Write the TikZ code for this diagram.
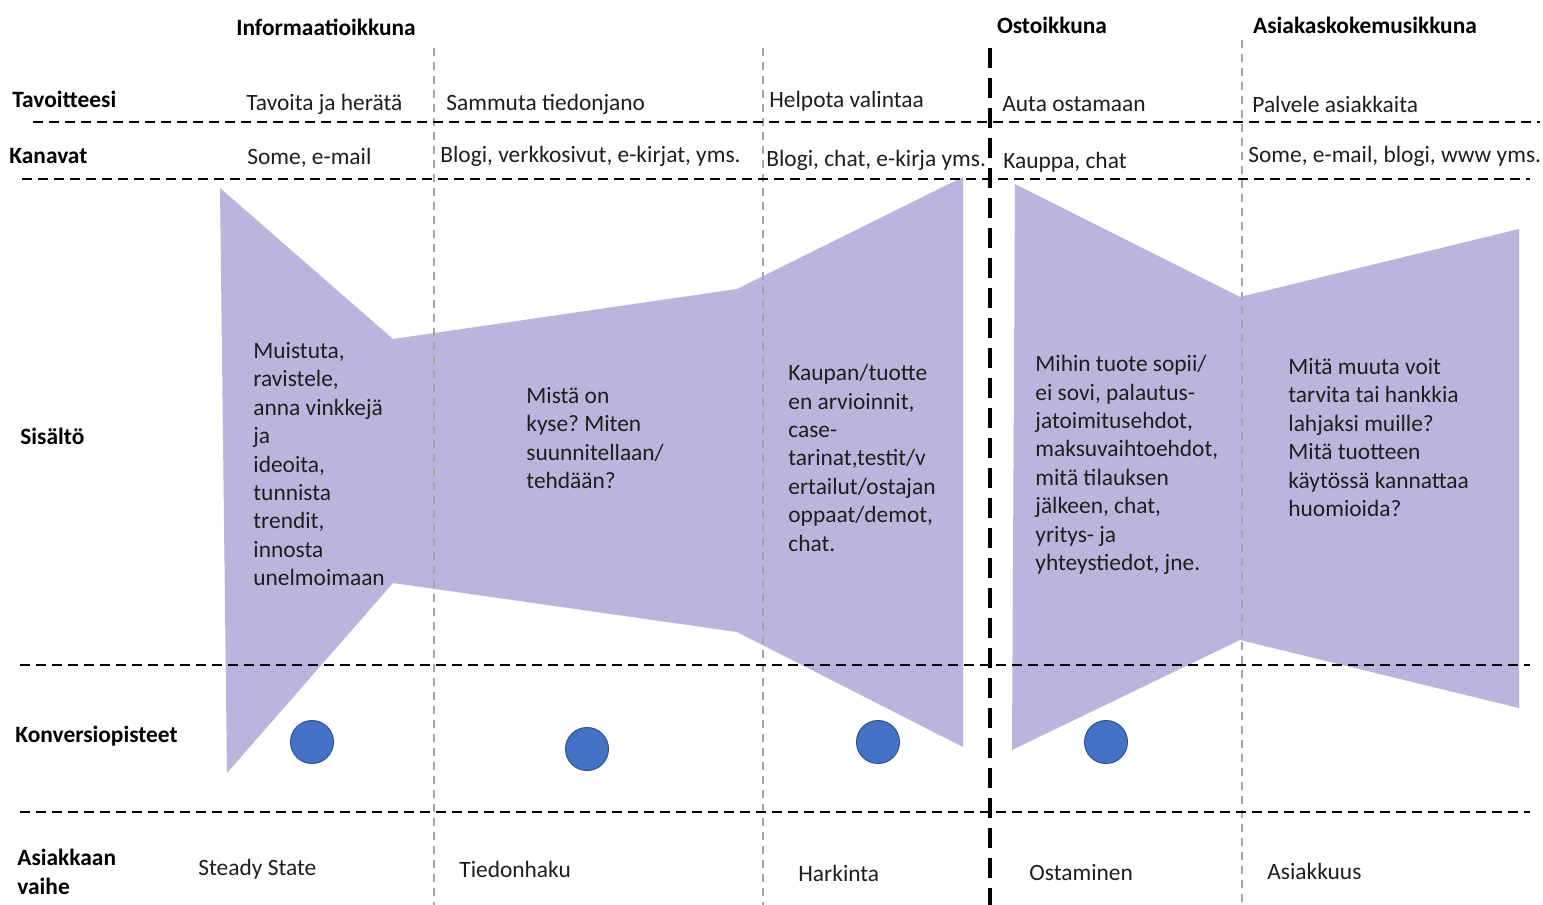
\documentclass[tikz,border=0pt]{standalone}
\usepackage{fontspec}
\setmainfont{Carlito}
\frenchspacing
\definecolor{funnel}{RGB}{188,180,220}
\definecolor{dot}{RGB}{68,114,196}
\definecolor{dotedge}{RGB}{47,82,143}
\definecolor{ink}{RGB}{30,30,30}
\definecolor{colgray}{RGB}{165,165,165}
\begin{document}
\begin{tikzpicture}[x=0.5pt,y=-0.5pt,
  txt/.style={font=\fontsize{11.7}{14.2}\selectfont, text=ink, inner sep=0pt, anchor=west},
  hdr/.style={txt, font=\fontsize{11.7}{14.2}\selectfont\bfseries, text=black},
  block/.style={txt, anchor=north west, align=left},
  rowline/.style={line width=1pt, dash pattern=on 5pt off 3pt},
  colline/.style={line width=0.6pt, colgray, dash pattern=on 4pt off 3pt},
  divider/.style={line width=1.8pt, dash pattern=on 10pt off 5pt},
  dotmark/.style={circle, fill=dot, draw=dotedge, line width=0.5pt, minimum size=21.5pt, inner sep=0pt},
]
\fill[white] (0,0) rectangle (1543,905);
\useasboundingbox (0,0) rectangle (1543,905);

% content funnels
\fill[funnel] (220,188) -- (393,339) -- (737,289) -- (963,177) -- (963,747)
  -- (737,632) -- (393,583) -- (227,773) -- cycle;
\fill[funnel] (1015,184) -- (1240,297) -- (1519,229) -- (1519,708)
  -- (1240,640) -- (1012,750) -- cycle;

% stage columns
\draw[colline] (434,48) -- (434,905);
\draw[colline] (763,48) -- (763,905);
\draw[colline] (1242,40) -- (1242,905);

% row separators
\draw[rowline] (33,122) -- (1540,122);
\draw[rowline] (22,179) -- (1530,179);
\draw[rowline] (20,665) -- (1530,665);
\draw[rowline] (20,812) -- (1530,812);

% purchase window divider
\draw[divider] (990,48) -- (990,905);

% conversion points
\node[dotmark] (c1) at (312,742) {};
\node[dotmark] (c2) at (587,749) {};
\node[dotmark] (c3) at (878,742) {};
\node[dotmark] (c4) at (1106,742) {};

% window headings
\node[hdr, anchor=center] (w1) at (326,27) {Informaatioikkuna};
\node[hdr, anchor=center] (w2) at (1052,25) {Ostoikkuna};
\node[hdr, anchor=center] (w3) at (1365,25) {Asiakaskokemusikkuna};

% row labels
\node[hdr] (l1) at (12,99) {Tavoitteesi};
\node[hdr] (l2) at (9,156) {Kanavat};
\node[hdr] (l3) at (20,436) {Sisältö};
\node[hdr] (l4) at (15,736) {Konversiopisteet};
\node[hdr, anchor=north west, align=left] (l5) at (17,849) {Asiakkaan\\vaihe};

% goals
\node[txt] (g1) at (246,104) {Tavoita ja herätä};
\node[txt] (g2) at (446,104) {Sammuta tiedonjano};
\node[txt] (g3) at (769,101) {Helpota valintaa};
\node[txt] (g4) at (1002,104) {Auta ostamaan};
\node[txt] (g5) at (1252,104) {Palvele asiakkaita};

% channels
\node[txt] (k1) at (247,158) {Some, e-mail};
\node[txt] (k2) at (440,156) {Blogi, verkkosivut, e-kirjat, yms.};
\node[txt] (k3) at (766,160) {Blogi, chat, e-kirja yms.};
\node[txt] (k4) at (1003,162) {Kauppa, chat};
\node[txt] (k5) at (1248,156) {Some, e-mail, blogi, www yms.};

% content
\node[block] (s1) at (253,342) {Muistuta,\\ravistele,\\anna vinkkejä\\ja\\ideoita,\\tunnista\\trendit,\\innosta\\unelmoimaan};
\node[block] (s2) at (526,387) {Mistä on\\kyse? Miten\\suunnitellaan/\\tehdään?};
\node[block] (s3) at (788,364) {Kaupan/tuotte\\en arvioinnit,\\case-\\tarinat,testit/v\\ertailut/ostajan\\oppaat/demot,\\chat.};
\node[block] (s4) at (1035,355) {Mihin tuote sopii/\\ei sovi, palautus-\\jatoimitusehdot,\\maksuvaihtoehdot,\\mitä tilauksen\\jälkeen, chat,\\yritys- ja\\yhteystiedot, jne.};
\node[block] (s5) at (1288,358) {Mitä muuta voit\\tarvita tai hankkia\\lahjaksi muille?\\Mitä tuotteen\\käytössä kannattaa\\huomioida?};

% customer phase
\node[txt] (p1) at (198,869) {Steady State};
\node[txt] (p2) at (459,869) {Tiedonhaku};
\node[txt] (p3) at (798,873) {Harkinta};
\node[txt] (p4) at (1029,873) {Ostaminen};
\node[txt] (p5) at (1267,871) {Asiakkuus};
\end{tikzpicture}
\end{document}
